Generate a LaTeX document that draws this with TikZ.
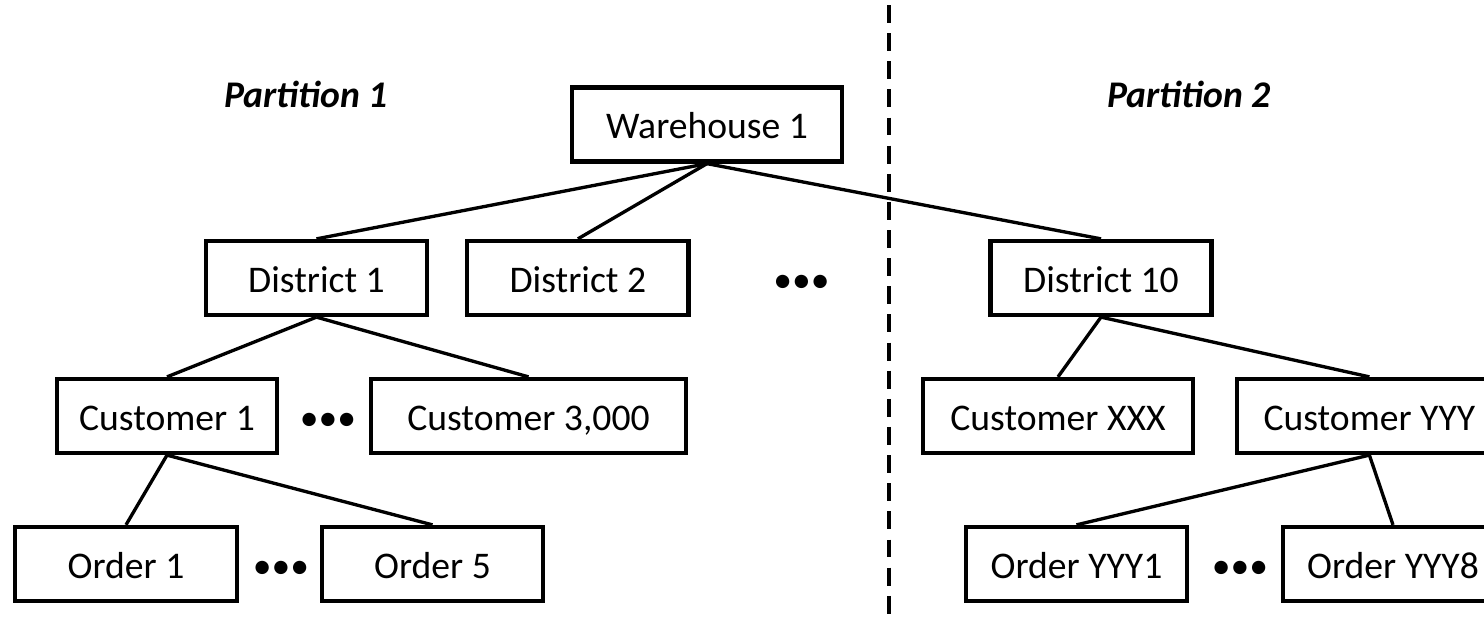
\documentclass[tikz,border=0pt]{standalone}
\usepackage{fontspec}
\setmainfont{Carlito}
\usetikzlibrary{positioning}

\begin{document}
\begin{tikzpicture}[x=0.01cm, y=-0.01cm,
        entity/.style = {draw, line width=1.2pt, minimum height=0.74cm, minimum width=2.21cm,
                         inner sep=0pt, text height=8.2pt, text depth=0pt, font=\fontsize{10.7}{12}\selectfont},
        more/.style = {inner sep=0pt, font=\fontsize{10.7}{12}\selectfont},
        part/.style = {font=\fontsize{10.7}{12}\selectfont\bfseries\itshape},
        link/.style = {line width=0.95pt},
    ]
    \useasboundingbox (0,0) rectangle (1484,621);
    \clip (0,0) rectangle (1484,621);
    % partitions
    \node[part]                                 (part1) at (306,94) {Partition 1};
    \node[part]                                 (part2) at (1189,94) {Partition 2};
    \coordinate                                 (cut_top) at (889,5);
    \coordinate                                 (cut_bot) at (889,621);
    \draw[line width=0.95pt, dash pattern=on 5.1pt off 2.9pt] (cut_top) -- (cut_bot);
    % tree
    \node[entity, minimum width=2.7cm]          (wh) at (707,124.5) {Warehouse 1};
    \node[entity]                               (dist1) at (316.5,278) {District 1};
    \node[entity, right=0.36cm of dist1]        (dist2) {District 2};
    \node[more, base right=0.82cm of dist2]     (dist_more) {•••};
    \node[entity]                               (dist10) at (1101,278) {District 10};
    \node[entity, minimum width=2.2cm]          (cust1) at (167,416) {Customer 1};
    \node[more, base right=0.2cm of cust1]      (cust_more) {•••};
    \node[entity, minimum width=3.15cm, base right=0.12cm of cust_more] (cust3000) {Customer 3,000};
    \node[entity, minimum width=2.7cm]          (custx) at (1058,416) {Customer XXX};
    \node[entity, minimum width=2.64cm, right=0.4cm of custx] (custy) {Customer YYY};
    \node[entity, minimum width=2.22cm]         (ord1) at (126,564) {Order 1};
    \node[more, base right=0.13cm of ord1]      (ord_more) {•••};
    \node[entity, base right=0.1cm of ord_more] (ord5) {Order 5};
    \node[entity]                               (ordy1) at (1076.5,564) {Order YYY1};
    \node[more, base right=0.22cm of ordy1]     (ordy_more) {•••};
    \node[entity, minimum width=2.2cm, base right=0.12cm of ordy_more] (ordy8) {Order YYY8};
    %
    \draw[link] (wh.south) -- (dist1.north);
    \draw[link] (wh.south) -- (dist2.north);
    \draw[link] (wh.south) -- (dist10.north);
    \draw[link] (dist1.south) -- (cust1.north);
    \draw[link] (dist1.south) -- (cust3000.north);
    \draw[link] (dist10.south) -- (custx.north);
    \draw[link] (dist10.south) -- (custy.north);
    \draw[link] (cust1.south) -- (ord1.north);
    \draw[link] (cust1.south) -- (ord5.north);
    \draw[link] (custy.south) -- (ordy1.north);
    \draw[link] (custy.south) -- (ordy8.north);
    %
\end{tikzpicture}
\end{document}
